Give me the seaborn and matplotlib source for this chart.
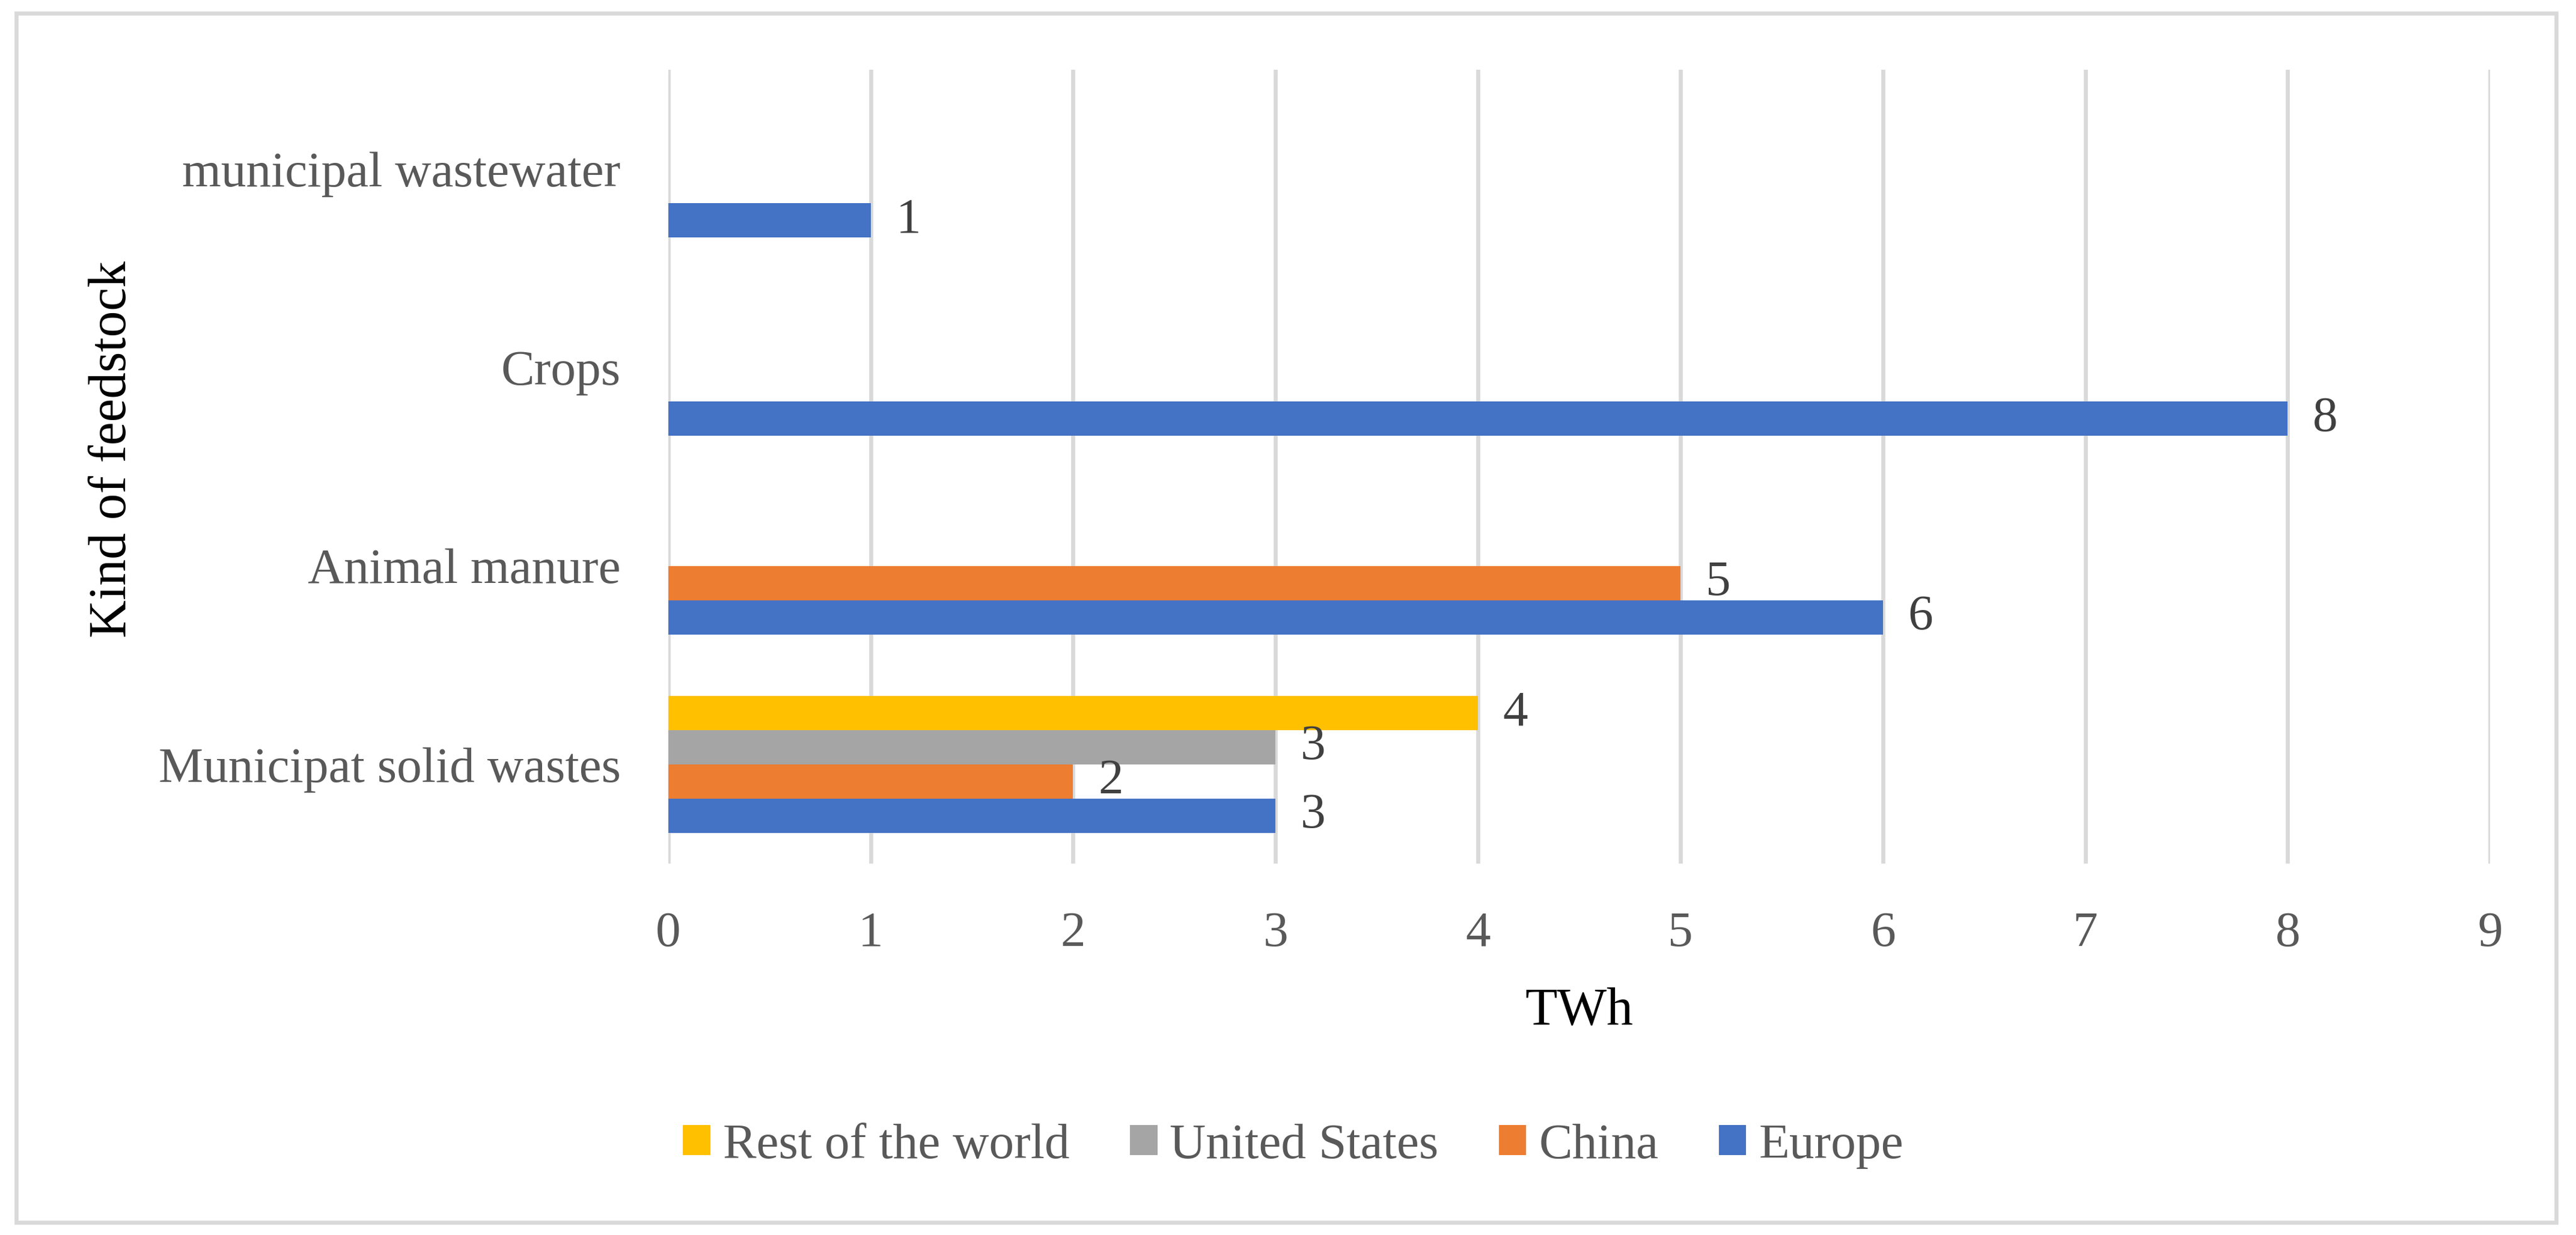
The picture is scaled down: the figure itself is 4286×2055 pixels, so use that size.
import matplotlib
matplotlib.use("Agg")
import matplotlib.pyplot as plt
from matplotlib.patches import Rectangle
import seaborn as sns
import pandas as pd

# data (TWh), 0 = no bar
feedstocks = ["municipal wastewater", "Crops", "Animal manure", "Municipat solid wastes"]
regions = ["Rest of the world", "United States", "China", "Europe"]
rest_of_world = [0, 0, 0, 4]
united_states = [0, 0, 0, 3]
china = [0, 0, 5, 2]
europe = [1, 8, 6, 3]

colors = {"Rest of the world": "#FFC000", "United States": "#A5A5A5",
          "China": "#ED7D31", "Europe": "#4472C4"}

rows = []
for reg, vals in zip(regions, [rest_of_world, united_states, china, europe]):
    for f, v in zip(feedstocks, vals):
        rows.append({"feedstock": f, "region": reg, "TWh": v})
df = pd.DataFrame(rows)

sns.set_style("white")
plt.rcParams["font.family"] = ["Liberation Serif", "DejaVu Serif"]

W, H = 4286, 2055
fig = plt.figure(figsize=(W / 300, H / 300), dpi=300)
ax = fig.add_axes([0.2594, 0.3007, 0.9667 - 0.2594, 0.9436 - 0.3007])

sns.barplot(data=df, y="feedstock", x="TWh", hue="region", order=feedstocks,
            hue_order=regions, palette=colors, orient="h", width=0.69,
            saturation=1, linewidth=0, ax=ax, legend=True)

for cont in ax.containers:
    labels = [f"{v:g}" if v > 0 else "" for v in cont.datavalues]
    ax.bar_label(cont, labels=labels, padding=10, fontsize=20, color="#404040")

ax.set_xlim(0, 9)
ax.set_xticks(range(10))
ax.grid(axis="x", color="#d9d9d9", lw=1.6)
ax.grid(axis="y", visible=False)
ax.set_axisbelow(True)
for s in ax.spines.values():
    s.set_visible(False)
ax.tick_params(axis="both", length=0, labelsize=20, colors="#595959")
ax.tick_params(axis="y", pad=19)
ax.tick_params(axis="x", pad=19)
ax.set_xlabel("")
ax.set_ylabel("")

fig.text(0.613, 1 - 1704 / H, "TWh", ha="center", va="baseline", fontsize=21, color="black")
fig.text(188 / W, 1 - 747 / H, "Kind of feedstock", ha="center", va="center",
         rotation=90, fontsize=21, color="black")

handles, labs = ax.get_legend_handles_labels()
ax.get_legend().remove()
leg = fig.legend(handles, labs, loc="center", bbox_to_anchor=(0.502, 0.072), ncol=4,
                 frameon=False, fontsize=20, handlelength=0.55, handleheight=0.55,
                 handletextpad=0.25, columnspacing=1.2)
for t in leg.get_texts():
    t.set_color("#595959")

fig.patches.append(Rectangle((27 / W, 1 - 2034 / H), (4253 - 27) / W, (2034 - 22) / H,
                             transform=fig.transFigure, fill=False,
                             edgecolor="#d9d9d9", lw=1.6))

fig.savefig("out.png", dpi=300)
